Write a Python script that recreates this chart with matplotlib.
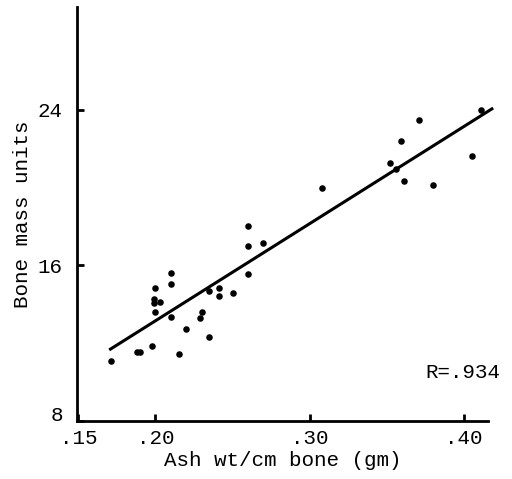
import matplotlib
matplotlib.use("Agg")
import matplotlib.pyplot as plt
import matplotlib.transforms as mtransforms
import numpy as np

# Ash weight per cm of bone (gm) vs bone mass units
ash_wt = [0.171, 0.188, 0.190, 0.198, 0.215, 0.220, 0.200, 0.199, 0.203,
          0.199, 0.200, 0.210, 0.210, 0.210, 0.229, 0.230, 0.235, 0.235,
          0.241, 0.241, 0.250, 0.260, 0.260, 0.260, 0.270, 0.308, 0.352,
          0.356, 0.359, 0.361, 0.371, 0.380, 0.405, 0.411]
bone_mass = [11.06, 11.54, 11.54, 11.88, 11.44, 12.71, 13.62, 14.04, 14.09,
             14.26, 14.84, 13.36, 15.06, 15.61, 13.31, 13.58, 12.34, 14.69,
             14.84, 14.42, 14.59, 15.54, 16.99, 18.01, 17.16, 19.97, 21.28,
             20.97, 22.38, 20.34, 23.44, 20.12, 21.62, 23.97]

# regression line as drawn
fit_slope = 49.9
fit_intercept = 3.17
fit_range = [0.170, 0.419]
r_value = ".934"

plt.rcParams['font.family'] = ['Liberation Mono', 'DejaVu Sans Mono']
plt.rcParams['font.size'] = 15

fig = plt.figure(figsize=(5.12, 4.79), dpi=100)
ax = fig.add_axes([0.150, 0.121, 0.803, 0.864])

ax.plot(ash_wt, bone_mass, 'o', color='black', markersize=3.7)
fx = np.array(fit_range)
ax.plot(fx, fit_intercept + fit_slope * fx, color='black', linewidth=2.2,
        solid_capstyle='butt', clip_on=False)

ax.text(0.847, 0.118, "R=" + r_value, transform=ax.transAxes,
        ha='left', va='center')

ax.set_xlim(0.149, 0.4156)
ax.set_ylim(8.0, 29.26)
ax.set_xticks([0.15, 0.20, 0.30, 0.40])
ax.set_xticklabels(['.15', '.20', '.30', '.40'])
ax.set_yticks([8, 16, 24])
ax.set_yticklabels(['8', '16', '24'])

for side in ['top', 'right']:
    ax.spines[side].set_visible(False)
for side in ['left', 'bottom']:
    ax.spines[side].set_linewidth(2)
ax.tick_params(direction='in', length=5, width=2)
ax.tick_params(axis='y', pad=10)
ax.tick_params(axis='x', pad=6)

# the "8" sits a little above the x axis in the original
lab8 = ax.get_yticklabels()[0]
lab8.set_transform(lab8.get_transform() +
                   mtransforms.ScaledTranslation(0, 0.08, fig.dpi_scale_trans))

ax.set_xlabel("Ash wt/cm bone (gm)", labelpad=2)
ax.set_ylabel("Bone mass units", labelpad=4)

fig.savefig("out.png", dpi=100)
